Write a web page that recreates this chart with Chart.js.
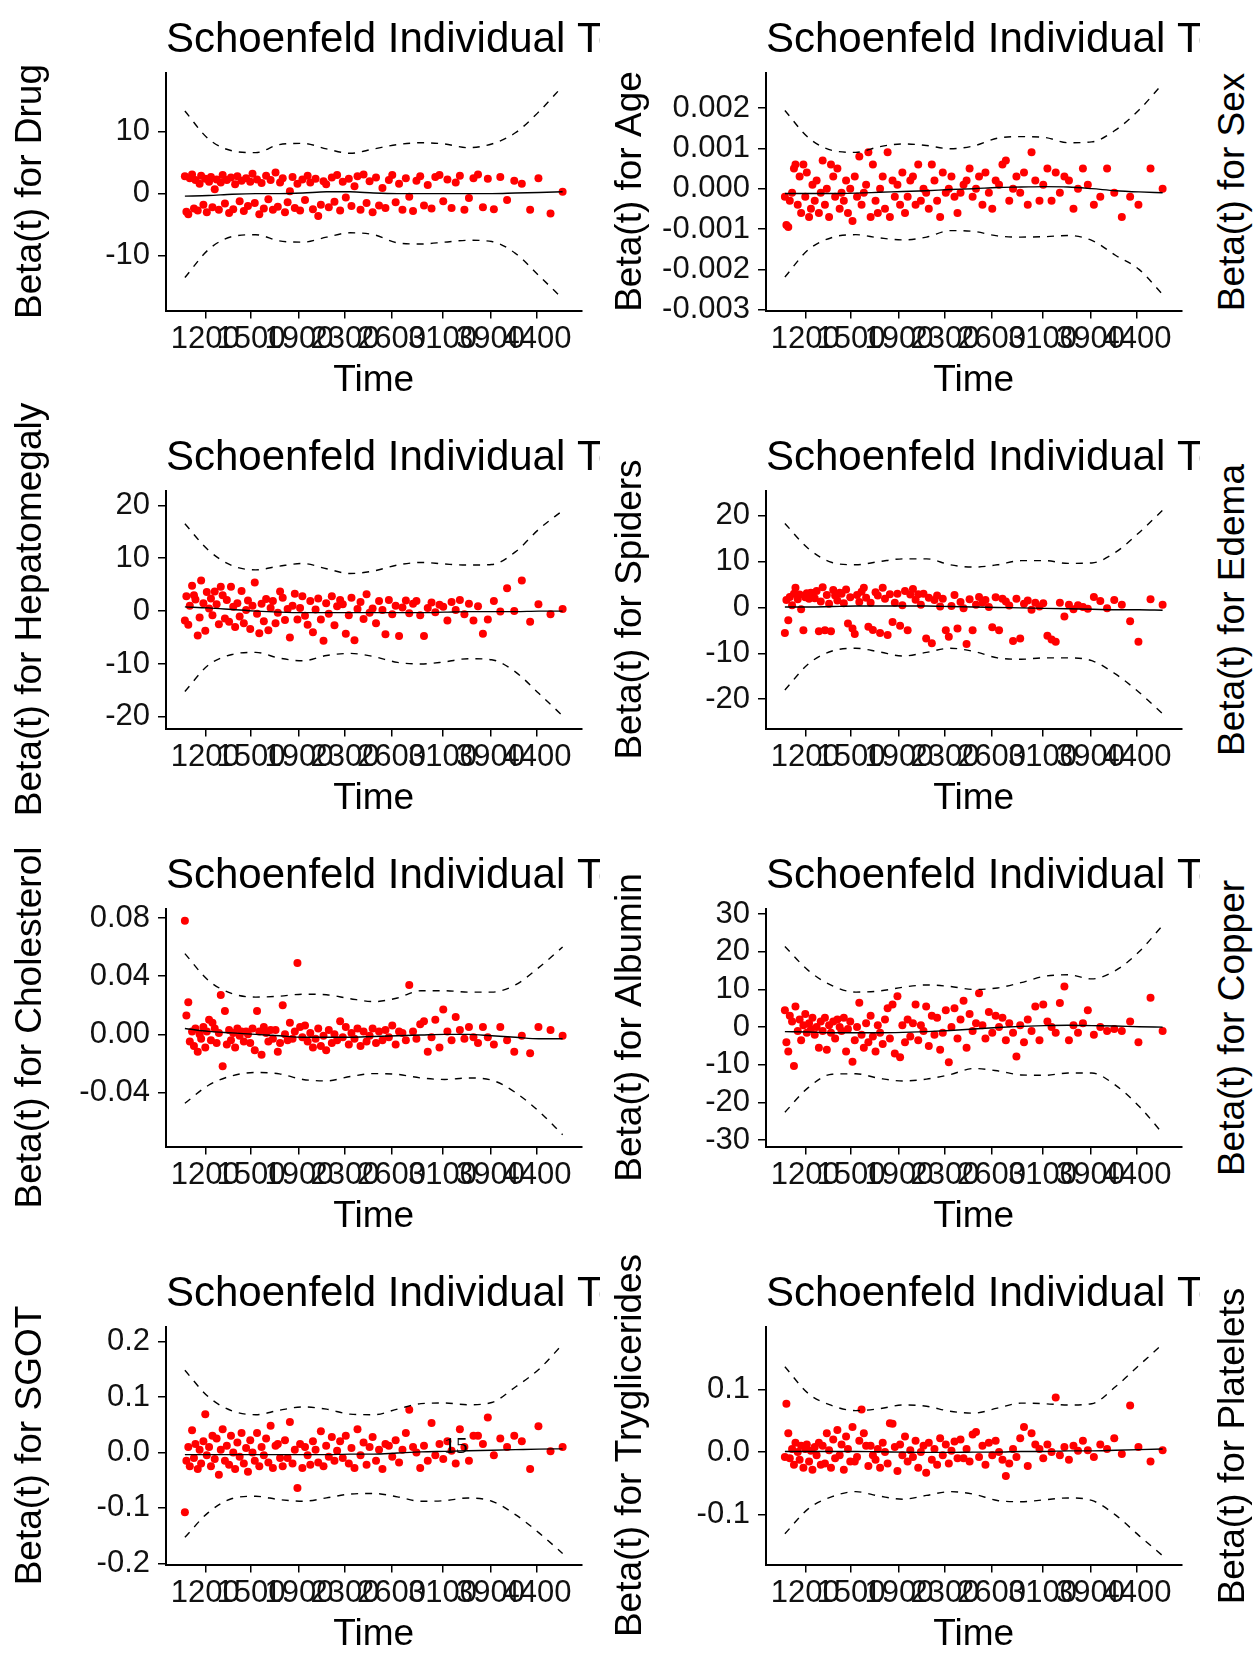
<!DOCTYPE html>
<html>
<head>
<meta charset="utf-8">
<title>Schoenfeld Individual Test</title>
<script src="https://cdn.jsdelivr.net/npm/chart.js@4.4.0/dist/chart.umd.min.js"></script>
<style>
  html, body { margin: 0; padding: 0; background: #fff; }
  body { width: 1257px; height: 1669px; position: relative; overflow: hidden;
         font-family: "Liberation Sans", Arial, sans-serif; }
  canvas.panel { position: absolute; }
  .orphan { position: absolute; font-size: 37px; color: #000; white-space: nowrap;
            line-height: 1; transform: translate(-50%, -50%) rotate(-90deg); }
</style>
</head>
<body>
<script>
// --- shared x (KM-scaled event times) ---
const eventX = [
  0.000,0.004,0.009,0.013,0.019,0.024,0.028,0.034,0.039,0.043,
  0.049,0.054,0.058,0.064,0.069,0.073,0.079,0.084,0.090,0.095,
  0.100,0.106,0.111,0.117,0.122,0.128,0.133,0.139,0.145,0.150,
  0.156,0.162,0.167,0.173,0.179,0.185,0.191,0.197,0.203,0.209,
  0.215,0.221,0.227,0.233,0.240,0.246,0.252,0.259,0.265,0.272,
  0.278,0.285,0.291,0.298,0.305,0.311,0.318,0.325,0.332,0.339,
  0.346,0.353,0.360,0.367,0.374,0.381,0.389,0.396,0.403,0.411,
  0.418,0.426,0.434,0.441,0.449,0.457,0.465,0.473,0.481,0.489,
  0.497,0.506,0.514,0.523,0.531,0.540,0.549,0.558,0.567,0.576,
  0.585,0.594,0.604,0.613,0.623,0.633,0.643,0.653,0.663,0.674,
  0.684,0.695,0.706,0.717,0.728,0.740,0.752,0.764,0.776,0.789,
  0.802,0.818,0.835,0.853,0.872,0.892,0.914,0.936,0.968,1.000
];
// knots where the smooth fit and its bands were read
const curveX = [0,0.0625,0.125,0.1875,0.25,0.3125,0.375,0.4375,0.5,0.5625,0.625,0.6875,0.75,0.8125,0.875,0.9375,1];

// x axis breaks (KM scale) and their time labels
const tickPos = [0.054,0.175,0.302,0.424,0.547,0.682,0.809,0.932];
const tickLabels = ["1200","1500","1900","2300","2600","3100","3900","4400"];

// --- Drug ---
const drugResid = [
  2.8,-2.9,-3.3,2.5,3.1,-2.4,2.2,-2.7,1.6,2.9,
  -1.8,2.4,-3.0,1.9,2.7,-2.2,0.7,2.3,-2.6,1.8,
  3.0,-1.6,2.2,-3.1,2.6,-2.5,1.5,2.8,-1.2,2.1,
  -2.8,2.5,-2.0,1.9,3.2,-1.5,2.3,-3.3,1.7,-2.4,
  2.9,-0.9,2.2,-2.6,3.4,-2.1,1.8,2.5,-3.0,-1.4,
  0.4,2.7,-2.3,1.6,-2.7,2.3,-1.0,2.9,1.8,-2.5,
  2.4,-3.6,-1.8,2.0,1.5,-2.2,2.6,-1.3,3.0,-2.7,
  1.9,-0.6,2.4,-2.0,1.2,2.8,-2.6,3.1,-1.5,2.0,
  -3.0,2.6,-1.9,0.9,-2.3,2.2,3.0,-1.4,1.6,-2.6,
  2.5,-0.5,-2.8,2.1,2.8,-1.9,1.4,-2.4,2.7,3.0,
  -1.2,2.3,-2.3,1.8,2.9,-2.6,-0.7,2.5,3.1,-2.2,
  2.4,-2.5,2.7,-1.0,2.1,1.6,-2.6,2.5,-3.2,0.3
];
const drugFit   = [-0.4,-0.3,-0.1,0,0,0.1,0.3,0.3,0.1,0,0,0,0,0,0.1,0.2,0.3];
const drugUpper = [13.3,8.8,6.9,6.6,7.9,8.1,7.2,6.5,7.2,7.9,8.2,8.0,7.4,8.0,9.8,13.2,17.3];
const drugLower = [-13.5,-9.0,-6.9,-6.6,-7.6,-7.8,-7.0,-6.3,-6.6,-7.9,-8.1,-7.8,-7.5,-7.7,-9.6,-13.2,-16.9];

// --- Age ---
const ageResid = [
  -0.0002,-0.0009,-0.00095,-0.0003,-0.0001,0.0005,0.0006,-0.0004,0.0003,-0.0006,
  0.0006,-0.0002,0.0004,-0.0007,-0.0005,0.0001,-0.0003,0.0002,-0.0006,-0.0001,
  0.0007,-0.0004,0.0000,-0.0007,0.0006,0.0003,-0.0002,0.0005,-0.0005,-0.0001,
  -0.0003,0.0002,-0.0006,0.0000,-0.0008,0.0003,-0.0002,0.0008,-0.0004,-0.0001,
  0.0001,0.0009,-0.0007,0.0006,-0.0003,-0.0006,0.0000,0.0003,-0.0005,0.0009,
  -0.0007,0.0002,-0.0002,0.0001,-0.0004,0.0004,-0.0006,-0.0002,0.0002,0.0003,
  -0.0004,0.0006,-0.0003,0.0000,-0.0001,-0.0005,0.0006,0.0002,-0.0003,-0.0007,
  0.0004,-0.0001,0.0000,0.0003,-0.0002,-0.0006,-0.0001,0.0001,0.0002,0.0005,
  -0.0002,0.0000,0.0003,-0.0004,0.0004,-0.0001,-0.0005,0.0002,0.0001,0.0006,
  0.0007,-0.0003,0.0000,0.0003,-0.0001,0.0004,-0.0004,0.0009,0.0002,-0.0003,
  0.0001,0.0005,-0.0003,0.0004,-0.0001,0.0003,0.0002,-0.0005,0.0000,0.0005,
  0.0001,-0.0004,-0.0002,0.0005,-0.0001,-0.0007,-0.0002,-0.0004,0.0005,0.0000
];
const ageFit   = [-0.00012,-0.00012,-0.00012,-0.00011,-0.00009,-0.00007,-0.00005,-0.00002,0,0.00003,0.00004,0.00005,0.00004,0,-0.00005,-0.00008,-0.0001];
const ageUpper = [0.00194,0.00126,0.00095,0.0009,0.00104,0.00111,0.00107,0.00099,0.00106,0.00125,0.00129,0.00127,0.00114,0.00116,0.00145,0.00195,0.0026];
const ageLower = [-0.00219,-0.00151,-0.00121,-0.00114,-0.00122,-0.00127,-0.0012,-0.00104,-0.00106,-0.00117,-0.0012,-0.00119,-0.00116,-0.00128,-0.00165,-0.002,-0.00262];

// --- Hepatomegaly ---
const hepResid = [
  -1.8,2.8,-2.6,1.0,4.8,3.0,2.2,-4.6,-1.2,5.8,
  1.5,-3.7,3.6,0.5,2.4,-0.8,3.7,1.3,-2.5,4.6,
  3.0,-1.4,2.1,-2.0,4.6,0.8,-3.0,1.5,-1.0,3.8,
  -2.3,0.2,2.0,-3.4,1.0,5.4,-0.5,-4.2,1.4,-1.9,
  2.3,-3.6,0.6,1.9,-2.3,-0.3,3.7,2.5,-1.7,0.4,
  -5.0,1.0,3.3,-1.6,0.6,2.8,-0.9,-2.6,1.9,-4.0,
  0.3,2.4,-1.6,-5.6,1.5,-0.5,2.8,-2.7,0.9,2.1,
  1.3,-4.3,-0.8,2.5,-5.5,0.4,1.7,-1.5,3.2,-0.3,
  0.5,-2.3,1.9,0.2,-4.4,2.1,-0.6,1.0,-4.7,0.7,
  2.0,-0.4,1.4,1.9,-0.8,-4.7,0.6,1.6,-0.2,1.2,
  0.8,-1.8,1.7,0.2,2.1,-0.6,1.4,-1.8,0.9,-4.3,
  -1.6,1.9,-0.1,4.3,0.0,5.8,-2.0,1.3,-0.6,0.4
];
const hepFit   = [0.8,0.6,0.3,0,-0.2,-0.3,-0.3,-0.3,-0.3,-0.3,-0.3,-0.2,-0.1,-0.1,-0.1,0,0];
const hepUpper = [16.5,11.5,8.6,7.8,8.5,9.0,8.0,7.1,7.6,8.7,9.2,8.9,8.7,8.8,11.2,15.5,19.0];
const hepLower = [-15.2,-10.2,-8.2,-7.8,-8.9,-9.4,-8.4,-8.0,-8.6,-9.7,-10.0,-9.6,-9.0,-9.2,-11.5,-15.6,-19.8];

// --- Spiders ---
const spidersResid = [
  -5.6,1.6,-2.8,2.3,0.5,3.0,4.3,1.8,2.8,-0.4,
  -5.0,2.2,3.1,1.9,3.2,2.5,2.0,3.6,-5.2,1.3,
  4.4,-5.0,2.7,0.8,-5.2,3.8,2.6,1.5,3.2,3.0,
  0.9,3.9,-3.5,2.2,-4.6,-5.8,2.7,1.2,3.4,4.3,
  2.1,-4.2,1.0,-4.9,3.3,2.6,-5.6,4.3,1.9,-6.0,
  2.9,-3.2,1.0,3.0,-4.0,0.5,3.6,-5.0,2.8,4.0,
  1.7,2.9,0.6,3.0,-6.8,2.1,-7.8,1.6,2.6,0.2,
  1.9,-5.0,-6.4,0.3,2.7,-4.6,1.2,-0.2,-8.0,1.8,
  -5.0,0.6,2.3,1.1,1.6,0.1,-4.3,2.2,-5.0,1.9,
  1.3,0.4,-7.3,1.9,-6.8,0.8,1.5,-0.5,1.0,0.2,
  0.9,-6.2,-7.0,-7.5,1.0,-2.0,0.6,-0.4,0.5,0.1,
  -0.3,2.3,1.4,-0.2,1.6,0.6,-3.0,-7.5,1.8,0.6
];
const spidersFit   = [0.1,0.1,0.2,0.3,0.3,0.3,0.3,0.2,0.1,0,-0.1,-0.2,-0.3,-0.4,-0.5,-0.5,-0.6];
const spidersUpper = [18.3,12.8,9.8,9.3,10.0,10.6,10.6,9.3,8.8,9.3,10.2,10.2,9.6,9.7,12.0,16.3,21.2];
const spidersLower = [-18.0,-12.3,-9.5,-8.9,-9.7,-10.6,-9.8,-8.9,-9.6,-11.0,-11.3,-11.0,-11.0,-11.6,-14.5,-18.5,-23.2];

// --- Cholesterol ---
const cholResid = [
  0.078,0.013,0.022,-0.005,0.002,-0.008,0.004,-0.012,0.000,-0.003,
  0.005,-0.009,0.002,0.010,-0.004,0.008,0.004,-0.006,0.001,0.027,
  -0.022,0.016,-0.007,0.003,-0.004,0.001,-0.009,0.004,-0.001,0.002,
  -0.005,0.002,0.000,-0.006,0.004,-0.011,0.016,0.002,-0.014,0.005,
  0.001,-0.005,0.003,-0.003,0.003,-0.012,-0.006,0.020,0.000,-0.004,
  0.008,-0.003,0.002,0.049,0.005,-0.002,0.006,-0.005,0.001,-0.009,
  -0.003,0.004,-0.008,-0.001,-0.011,0.003,-0.006,0.000,-0.004,0.009,
  -0.002,0.005,-0.007,0.001,-0.003,0.004,-0.008,0.002,-0.005,-0.001,
  0.004,-0.006,0.002,-0.004,0.003,-0.002,0.006,-0.007,0.002,0.001,
  -0.004,0.034,0.002,-0.003,0.007,0.009,-0.012,-0.002,0.010,-0.009,
  0.017,0.002,-0.004,0.012,0.003,-0.003,0.005,-0.002,-0.006,0.005,
  -0.002,-0.007,0.005,-0.004,-0.012,-0.001,-0.013,0.005,0.003,-0.001
];
const cholFit   = [0.004,0.002,0.001,0,-0.001,-0.002,-0.002,-0.002,-0.0015,-0.001,-0.0005,0,0,-0.001,-0.002,-0.003,-0.003];
const cholUpper = [0.0555,0.037,0.028,0.0256,0.0262,0.0276,0.0272,0.0245,0.0225,0.025,0.03,0.03,0.029,0.029,0.034,0.046,0.06];
const cholLower = [-0.0474,-0.035,-0.0285,-0.0262,-0.0272,-0.031,-0.032,-0.029,-0.027,-0.0275,-0.03,-0.031,-0.03,-0.0315,-0.04,-0.053,-0.069];

// --- Albumin ---
const albResid = [
  4.5,-4.0,-6.5,3.0,1.5,-10.3,5.5,-1.0,2.0,-3.5,
  0.5,3.5,-1.5,1.0,-0.5,2.5,-2.0,0.0,-5.5,1.5,
  -1.0,2.5,-6.0,0.5,-1.5,1.5,-3.0,2.0,0.0,-1.0,
  2.5,-6.5,-0.5,1.5,-9.2,-3.5,0.0,6.5,-2.0,-5.5,
  1.0,-4.0,3.0,-2.5,-6.5,0.5,-1.5,-4.5,2.0,5.0,
  -3.0,6.0,-7.0,8.2,-8.0,0.5,-4.0,2.0,-2.5,1.0,
  6.0,-3.5,0.5,-1.0,5.5,-5.0,3.0,-2.0,2.5,-6.0,
  -1.5,4.5,-9.3,0.0,5.0,-3.0,2.0,7.0,-5.5,3.5,
  -1.0,1.0,9.0,0.5,-3.0,4.0,-1.5,3.0,0.0,2.5,
  -3.5,1.0,-1.5,-7.8,0.5,-4.0,2.0,-1.0,5.5,-3.5,
  6.0,1.5,0.0,-1.5,6.4,10.8,-3.5,0.5,-1.5,1.0,
  4.5,-2.0,0.0,-1.0,-0.5,-1.0,1.5,-4.0,7.8,-1.0
];
const albFit   = [-1.2,-1.3,-1.5,-1.5,-1.5,-1.4,-1.2,-0.9,-0.5,-0.1,0.2,0.4,0.5,0.4,0.3,0.1,0];
const albUpper = [21.4,15.0,11.0,9.3,9.6,10.6,11.2,10.8,10.0,10.4,11.8,13.5,13.9,12.8,15.0,20.0,27.0];
const albLower = [-22.6,-16.0,-12.5,-12.4,-13.6,-14.3,-13.8,-12.6,-11.0,-11.6,-12.7,-12.8,-12.2,-12.2,-15.4,-21.0,-28.2];

// --- SGOT ---
const sgotResid = [
  -0.108,-0.015,0.010,-0.025,0.040,-0.010,0.015,-0.030,0.005,-0.020,
  0.020,0.069,-0.005,0.010,-0.025,0.030,-0.012,0.025,-0.040,0.005,
  0.042,-0.015,0.012,-0.022,0.030,0.000,-0.030,0.018,-0.008,0.035,
  -0.020,0.008,-0.035,0.022,0.000,-0.015,0.035,-0.025,0.010,-0.005,
  0.025,-0.018,0.048,-0.028,0.012,0.015,-0.010,-0.025,0.022,-0.010,
  0.055,-0.020,0.005,-0.064,0.015,-0.028,0.010,-0.005,-0.022,0.020,
  0.005,-0.018,0.038,-0.025,0.012,-0.008,0.028,-0.015,0.003,0.020,
  -0.010,0.030,-0.020,0.008,-0.028,0.042,-0.005,0.018,-0.022,0.010,
  0.028,-0.015,0.005,-0.030,0.015,0.012,-0.008,0.022,-0.018,0.005,
  0.035,0.077,0.010,0.000,-0.028,0.012,-0.015,0.053,-0.005,0.015,
  -0.012,0.020,0.003,-0.020,0.042,0.010,-0.015,0.030,0.030,0.015,
  0.063,-0.005,0.025,0.010,0.030,0.020,-0.030,0.047,0.002,0.010
];
const sgotFit   = [-0.004,-0.004,-0.004,-0.004,-0.004,-0.004,-0.004,-0.003,-0.003,-0.001,0.001,0.002,0.003,0.004,0.005,0.006,0.0065];
const sgotUpper = [0.148,0.1,0.075,0.068,0.076,0.082,0.078,0.069,0.068,0.078,0.088,0.089,0.086,0.09,0.118,0.15,0.195];
const sgotLower = [-0.153,-0.108,-0.083,-0.079,-0.085,-0.088,-0.082,-0.075,-0.074,-0.08,-0.088,-0.087,-0.082,-0.088,-0.112,-0.145,-0.182];

// --- Tryglicerides ---
const trigResid = [
  -0.008,0.077,0.030,-0.010,0.005,-0.020,0.015,0.000,-0.012,0.010,
  -0.025,0.005,0.012,-0.015,0.002,-0.028,0.008,-0.005,0.015,-0.020,
  0.010,-0.018,0.030,0.003,-0.025,0.020,-0.010,0.035,-0.005,0.012,
  -0.028,0.025,0.005,-0.015,0.040,-0.015,-0.008,0.018,0.068,0.030,
  0.010,-0.022,0.010,-0.005,-0.012,0.005,-0.025,0.015,0.000,-0.018,
  0.046,0.045,0.008,-0.030,0.012,-0.005,0.025,-0.015,0.003,-0.008,
  0.018,-0.025,0.000,0.010,-0.033,0.015,-0.012,0.005,-0.020,0.022,
  -0.005,0.012,-0.018,0.002,0.017,-0.010,0.020,-0.010,0.005,-0.015,
  0.028,0.032,-0.008,0.010,-0.020,0.015,-0.005,0.018,0.000,-0.012,
  -0.038,-0.018,0.005,-0.008,0.022,0.040,-0.022,0.030,0.012,0.005,
  -0.010,0.012,0.000,0.087,-0.005,0.008,-0.012,0.010,0.002,0.018,
  0.003,-0.008,0.012,0.005,0.022,-0.003,0.074,0.008,-0.015,0.003
];
const trigFit   = [0.001,0.001,0.001,0.001,0.0005,0,-0.0005,-0.0005,0,0,0.001,0.001,0.002,0.002,0.003,0.004,0.005];
const trigUpper = [0.136,0.093,0.074,0.066,0.069,0.075,0.073,0.065,0.062,0.07,0.078,0.077,0.075,0.077,0.104,0.138,0.172];
const trigLower = [-0.13,-0.09,-0.071,-0.063,-0.07,-0.075,-0.069,-0.063,-0.067,-0.077,-0.079,-0.076,-0.073,-0.077,-0.1,-0.133,-0.165];

// covariates whose panels fall outside the picture (only their y titles show)
const hiddenNames = ["Sex","Edema","Copper","Platelets"];

// --- layout constants (px) ---
const CELL_W = 600, CELL_H = 418, OVER = 30;
const AREA_TOP = 72.5, AREA_BOTTOM = 310.5, AREA_LEFT = 166, AREA_RIGHT = 581.5;

Chart.defaults.font.family = '"Liberation Sans", Arial, sans-serif';
Chart.defaults.color = "#000";

const panels = [
  { name: "Drug",          row: 0, col: 0, resid: drugResid,    fit: drugFit,    upper: drugUpper,    lower: drugLower,    yMin: -18.8,    yMax: 19.5,    yTicks: [-10,0,10], digits: 0 },
  { name: "Age",           row: 0, col: 1, resid: ageResid,     fit: ageFit,     upper: ageUpper,     lower: ageLower,     yMin: -0.00302, yMax: 0.00288, yTicks: [-0.003,-0.002,-0.001,0,0.001,0.002], digits: 3 },
  { name: "Hepatomegaly",  row: 1, col: 0, resid: hepResid,     fit: hepFit,     upper: hepUpper,     lower: hepLower,     yMin: -22.2,    yMax: 22.8,    yTicks: [-20,-10,0,10,20], digits: 0 },
  { name: "Spiders",       row: 1, col: 1, resid: spidersResid, fit: spidersFit, upper: spidersUpper, lower: spidersLower, yMin: -26.4,    yMax: 25.5,    yTicks: [-20,-10,0,10,20], digits: 0 },
  { name: "Cholesterol",   row: 2, col: 0, resid: cholResid,    fit: cholFit,    upper: cholUpper,    lower: cholLower,    yMin: -0.0771,  yMax: 0.0865,  yTicks: [-0.04,0,0.04,0.08], digits: 2 },
  { name: "Albumin",       row: 2, col: 1, resid: albResid,     fit: albFit,     upper: albUpper,     lower: albLower,     yMin: -31.7,    yMax: 31.5,    yTicks: [-30,-20,-10,0,10,20,30], digits: 0 },
  { name: "SGOT",          row: 3, col: 0, resid: sgotResid,    fit: sgotFit,    upper: sgotUpper,    lower: sgotLower,    yMin: -0.202,   yMax: 0.227,   yTicks: [-0.2,-0.1,0,0.1,0.2], digits: 1,
    notes: [{ x: 0.717, y: -0.001, text: "15" }] },
  { name: "Tryglicerides", row: 3, col: 1, resid: trigResid,    fit: trigFit,    upper: trigUpper,    lower: trigLower,    yMin: -0.179,   yMax: 0.200,   yTicks: [-0.1,0,0.1], digits: 1 }
];

// panel title, left-aligned on the plot area and cut at the cell edge
const panelTitle = {
  id: "panelTitle",
  afterDraw(chart, args, opts) {
    const { ctx, chartArea } = chart;
    ctx.save();
    ctx.font = '42px "Liberation Sans", Arial, sans-serif';
    ctx.fillStyle = "#000";
    ctx.textBaseline = "alphabetic";
    ctx.fillText(opts.text, chartArea.left, chartArea.top - 20.5);
    ctx.restore();
  }
};

// stray text labels placed at data coordinates
const panelNotes = {
  id: "panelNotes",
  afterDatasetsDraw(chart, args, opts) {
    if (!opts.items) return;
    const { ctx, scales } = chart;
    ctx.save();
    ctx.font = '24px "Liberation Serif", serif';
    ctx.fillStyle = "#000";
    ctx.textAlign = "center";
    ctx.textBaseline = "alphabetic";
    opts.items.forEach(n => {
      ctx.fillText(n.text, scales.x.getPixelForValue(n.x), scales.y.getPixelForValue(n.y));
    });
    ctx.restore();
  }
};

function lineSet(values, dashed) {
  return {
    data: curveX.map((x, i) => ({ x: x, y: values[i] })),
    showLine: true,
    borderColor: "#000",
    borderWidth: 1.4,
    borderDash: dashed ? [7, 7] : [],
    pointRadius: 0,
    fill: false,
    cubicInterpolationMode: "monotone"
  };
}

panels.forEach(p => {
  const canvas = document.createElement("canvas");
  canvas.className = "panel";
  canvas.width = CELL_W;
  canvas.height = CELL_H + 2 * OVER;
  canvas.style.left = (p.col * CELL_W) + "px";
  canvas.style.top = (p.row * CELL_H - OVER) + "px";
  document.body.appendChild(canvas);

  new Chart(canvas, {
    type: "scatter",
    data: {
      datasets: [
        lineSet(p.fit, false),
        lineSet(p.upper, true),
        lineSet(p.lower, true),
        {
          data: eventX.map((x, i) => ({ x: x, y: p.resid[i] })),
          pointRadius: 4,
          pointBackgroundColor: "#ff0000",
          pointBorderWidth: 0,
          showLine: false
        }
      ]
    },
    options: {
      responsive: false,
      animation: false,
      devicePixelRatio: 1,
      layout: { padding: { top: OVER + AREA_TOP, right: CELL_W - AREA_RIGHT, left: 0, bottom: 0 } },
      plugins: {
        legend: { display: false },
        tooltip: { enabled: false },
        title: { display: false },
        panelTitle: { text: "Schoenfeld Individual Test" },
        panelNotes: { items: p.notes }
      },
      scales: {
        x: {
          type: "linear",
          min: -0.05,
          max: 1.05,
          afterBuildTicks: s => { s.ticks = tickPos.map(v => ({ value: v })); },
          afterFit: s => { s.height = CELL_H + OVER - AREA_BOTTOM; },
          ticks: {
            callback: (v, i) => tickLabels[i],
            autoSkip: false, minRotation: 0, maxRotation: 0,
            color: "#111", font: { size: 31 }, padding: 2
          },
          grid: { drawOnChartArea: false, drawTicks: true, tickLength: 8, color: "#000", lineWidth: 1.5 },
          border: { display: true, color: "#000", width: 2 },
          title: { display: true, text: "Time", color: "#000", font: { size: 37 }, padding: { top: 0, bottom: 44.8 } }
        },
        y: {
          type: "linear",
          min: p.yMin,
          max: p.yMax,
          afterBuildTicks: s => { s.ticks = p.yTicks.map(v => ({ value: v })); },
          afterFit: s => { s.width = AREA_LEFT; },
          ticks: {
            callback: v => Number(v).toFixed(p.digits),
            autoSkip: false,
            color: "#111", font: { size: 31 }, padding: 8
          },
          grid: { drawOnChartArea: false, drawTicks: true, tickLength: 8, color: "#000", lineWidth: 1.5 },
          border: { display: true, color: "#000", width: 2 },
          title: { display: true, text: "Beta(t) for " + p.name, color: "#000", font: { size: 37 }, padding: { top: 8.8, bottom: 0 } }
        }
      }
    },
    plugins: [panelTitle, panelNotes]
  });
});

// y titles of the third column, whose plots are cut off by the picture edge
hiddenNames.forEach((name, row) => {
  const d = document.createElement("div");
  d.className = "orphan";
  d.textContent = "Beta(t) for " + name;
  d.style.left = (2 * CELL_W + 31) + "px";
  d.style.top = (row * CELL_H + (AREA_TOP + AREA_BOTTOM) / 2) + "px";
  document.body.appendChild(d);
});
</script>
</body>
</html>
